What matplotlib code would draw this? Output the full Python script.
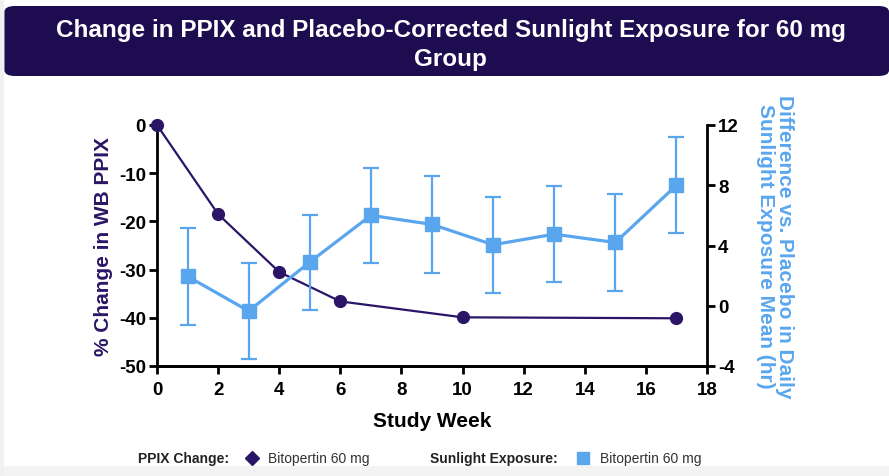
import numpy as np
import matplotlib.pyplot as plt
from matplotlib.patches import FancyBboxPatch, Rectangle
from matplotlib.lines import Line2D

plt.rcParams['font.family'] = ['Liberation Sans', 'DejaVu Sans']
plt.rcParams['axes.unicode_minus'] = False

# data
ppix_week = [0, 2, 4, 6, 10, 17]
ppix_change = [0, -18.5, -30.5, -36.6, -39.9, -40.1]

sun_week = [1, 3, 5, 7, 9, 11, 13, 15, 17]
sun_mean = [1.95, -0.35, 2.9, 6.0, 5.4, 4.05, 4.75, 4.2, 8.0]
sun_err = [3.2, 3.2, 3.15, 3.15, 3.2, 3.2, 3.2, 3.2, 3.2]

x_ticks = list(range(0, 19, 2))
left_ticks = [0, -10, -20, -30, -40, -50]
right_ticks = [12, 8, 4, 0, -4]

navy = '#1d0c4f'
ppix_color = '#2b1566'
sun_color = '#5aa6ee'

fig = plt.figure(figsize=(8.89, 4.77), dpi=100)

# card background and title banner
fig.patches.append(Rectangle((0, 0), 1, 10 / 477, transform=fig.transFigure,
                             facecolor='#f3f3f3', edgecolor='none', zorder=0))
fig.patches.append(Rectangle((0, 0), 4 / 889, 1, transform=fig.transFigure,
                             facecolor='#f0f0f0', edgecolor='none', zorder=0))
fig.patches.append(FancyBboxPatch((0.005, 1 - 77 / 477), 0.995, 70 / 477,
                                  boxstyle='round,pad=0,rounding_size=0.012',
                                  transform=fig.transFigure, facecolor=navy,
                                  edgecolor='none', zorder=1))
fig.text(0.507, 1 - 45 / 477,
         'Change in PPIX and Placebo-Corrected Sunlight Exposure for 60 mg\nGroup',
         ha='center', va='center', color='white', fontsize=17.5,
         fontweight='bold', linespacing=1.3)

ax = fig.add_axes([157 / 889, 1 - 367 / 477, 550 / 889, 241 / 477])
ax2 = ax.twinx()

ax.plot(ppix_week, ppix_change, color=ppix_color, lw=1.6, marker='o',
        markersize=8.5, clip_on=False, zorder=3)
ax2.errorbar(sun_week, sun_mean, yerr=sun_err, color=sun_color, lw=2.3,
             marker='s', markersize=10, capsize=6, elinewidth=1.6,
             capthick=1.6, clip_on=False, zorder=3)

ax.set_xlim(0, 18)
ax.set_ylim(-50, 0)
ax2.set_ylim(-4, 12)
ax.set_xticks(x_ticks)
ax.set_yticks(left_ticks)
ax2.set_yticks(right_ticks)

for a in (ax, ax2):
    a.spines['top'].set_visible(False)
    for s in a.spines.values():
        s.set_linewidth(2)
    a.tick_params(width=2, length=6, labelsize=13.5, pad=2)
    for lab in a.get_xticklabels() + a.get_yticklabels():
        lab.set_fontweight('bold')
ax.spines['right'].set_visible(False)
ax2.spines['left'].set_visible(False)
ax.tick_params(axis='x', pad=5)

ax.set_xlabel('Study Week', fontsize=15, fontweight='bold', labelpad=9)
ax.set_ylabel('% Change in WB PPIX', fontsize=15, fontweight='bold',
              color=ppix_color, labelpad=4)
ax2.set_ylabel('Difference vs. Placebo in Daily\nSunlight Exposure Mean (hr)',
               fontsize=15, fontweight='bold', color=sun_color, rotation=-90,
               va='bottom', labelpad=12, linespacing=1.0)

# legend row at the bottom
ly = 1 - 459 / 477
fig.text(138 / 889, ly, 'PPIX Change:', fontsize=10, fontweight='bold',
         va='center', color='#222222')
fig.add_artist(Line2D([252 / 889], [ly], marker='D', markersize=7.5,
                      color=ppix_color, transform=fig.transFigure))
fig.text(268 / 889, ly, 'Bitopertin 60 mg', fontsize=10, va='center',
         color='#333333')
fig.text(430 / 889, ly, 'Sunlight Exposure:', fontsize=10, fontweight='bold',
         va='center', color='#222222')
fig.add_artist(Line2D([583 / 889], [ly], marker='s', markersize=9,
                      color=sun_color, transform=fig.transFigure))
fig.text(600 / 889, ly, 'Bitopertin 60 mg', fontsize=10, va='center',
         color='#333333')

fig.savefig('out.png', dpi=100)
